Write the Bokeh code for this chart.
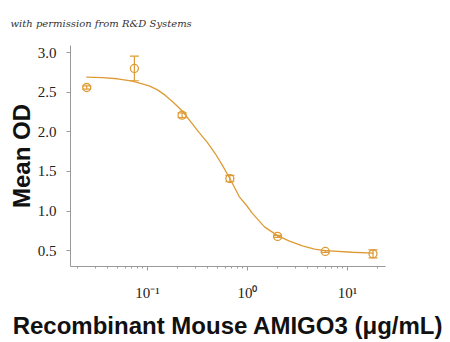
from bokeh.plotting import figure
from bokeh.models import FixedTicker, Range1d, Whisker, ColumnDataSource, NumeralTickFormatter, TeeHead
from bokeh.embed import file_html
from bokeh.resources import INLINE

# data
conc = [0.0247, 0.074, 0.222, 0.667, 2.0, 6.0, 18.0]
mean_od = [2.56, 2.80, 2.21, 1.41, 0.68, 0.49, 0.46]
err = [0.02, 0.155, 0.03, 0.04, 0.012, 0.012, 0.05]

curve_x = [0.0245, 0.0355, 0.050, 0.0708, 0.104, 0.126, 0.151, 0.182, 0.224, 0.27,
           0.329, 0.40, 0.479, 0.56, 0.66, 0.83, 0.98, 1.12, 1.48, 2.0, 2.63,
           3.55, 4.68, 6.0, 11.2, 18.2]
curve_y = [2.69, 2.685, 2.67, 2.64, 2.58, 2.53, 2.46, 2.37, 2.26, 2.13,
           1.99, 1.86, 1.72, 1.58, 1.42, 1.18, 1.07, 0.97, 0.80, 0.69, 0.62,
           0.56, 0.52, 0.50, 0.48, 0.47]

y_ticks = [0.5, 1.0, 1.5, 2.0, 2.5, 3.0]
x_ticks = [0.1, 1, 10]
x_tick_labels = {0.1: "10\u207b\u00b9", 1: "10\u2070", 10: "10\u00b9"}

COLOR = "#DE9B35"
AXIS = "#9a9a9a"

p = figure(width=450, height=342, x_axis_type="log",
           x_range=Range1d(0.017, 24), y_range=Range1d(0.3, 3.09),
           output_backend="svg", toolbar_location=None,
           min_border_left=70, min_border_right=65, min_border_top=45, min_border_bottom=76)
p.outline_line_color = None
p.xgrid.visible = False
p.ygrid.visible = False

p.title.text = "with permission from R&D Systems"
p.title.align = "left"
p.title.offset = -60
p.title.text_font = "DejaVu Serif"
p.title.text_font_style = "italic"
p.title.text_font_size = "10px"
p.title.text_color = "#333333"
p.title.standoff = 30
p.title.vertical_align = "top"

p.line(curve_x, curve_y, line_color=COLOR, line_width=1.3)

lower = [m - e for m, e in zip(mean_od, err)]
upper = [m + e for m, e in zip(mean_od, err)]
src = ColumnDataSource(dict(x=conc, y=mean_od, lower=lower, upper=upper))
w = Whisker(base="x", lower="lower", upper="upper", source=src,
            line_color=COLOR, line_width=1.2,
            upper_head=TeeHead(size=9, line_color=COLOR, line_width=1.2),
            lower_head=TeeHead(size=9, line_color=COLOR, line_width=1.2))
p.add_layout(w)
p.scatter("x", "y", source=src, marker="circle", size=8, fill_color="white",
          fill_alpha=0, line_color=COLOR, line_width=1.3)

# axes
p.yaxis.ticker = FixedTicker(ticks=y_ticks)
p.yaxis.formatter = NumeralTickFormatter(format="0.0")
p.xaxis.ticker = FixedTicker(ticks=x_ticks, minor_ticks=[
    0.02, 0.03, 0.04, 0.05, 0.06, 0.07, 0.08, 0.09,
    0.2, 0.3, 0.4, 0.5, 0.6, 0.7, 0.8, 0.9,
    2, 3, 4, 5, 6, 7, 8, 9, 20])
p.xaxis.major_label_overrides = x_tick_labels
for ax in (p.xaxis[0], p.yaxis[0]):
    ax.axis_line_color = AXIS
    ax.major_tick_line_color = AXIS
    ax.major_tick_in = 0
    ax.major_tick_out = 4
    ax.minor_tick_in = 0
    ax.minor_tick_out = 2
    ax.major_label_text_font = "Liberation Sans Narrow"
    ax.major_label_text_font_size = "15px"
    ax.major_label_text_color = "#222222"
    ax.axis_label_text_font = "Liberation Sans"
    ax.axis_label_text_font_style = "bold"
    ax.axis_label_text_font_size = "24px"
    ax.axis_label_text_color = "#111111"
p.xaxis.minor_tick_line_color = AXIS
p.yaxis.minor_tick_line_color = None

p.xaxis.major_label_standoff = 14
p.yaxis.major_label_standoff = 10
p.xaxis.axis_label = "Recombinant Mouse AMIGO3 (\u03bcg/mL)"
p.yaxis.axis_label = "Mean OD"
p.xaxis.axis_label_standoff = 8
p.yaxis.axis_label_standoff = 0

open("out.html", "w").write(file_html(p, INLINE))
